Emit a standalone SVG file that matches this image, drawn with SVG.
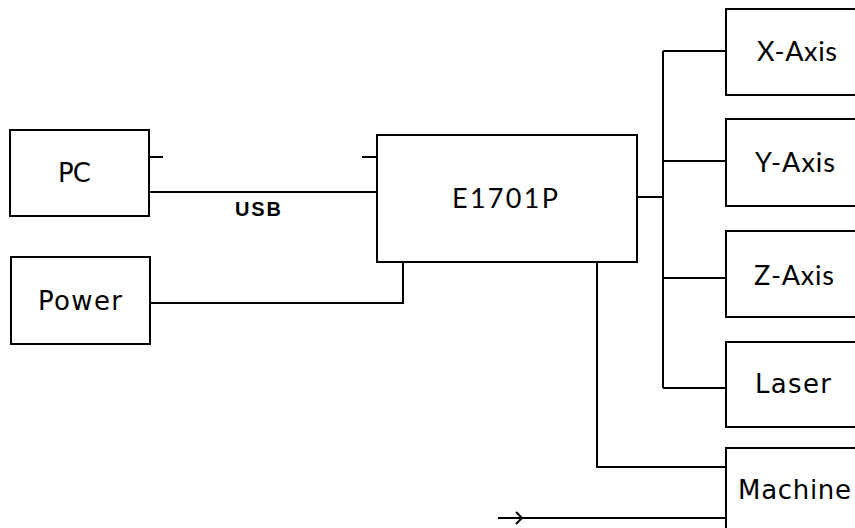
<svg xmlns="http://www.w3.org/2000/svg" width="855" height="528" viewBox="0 0 855 528">
<style>
.box{fill:#fff;stroke:#000;stroke-width:2}
.ln{fill:none;stroke:#000;stroke-width:2}
.dj{font-family:"DejaVu Sans",sans-serif;font-size:26px;fill:#000}
.cb{font-family:Lato,"Open Sans",sans-serif;font-size:27px;fill:#000}
.lbl{font-family:"Liberation Sans",Arial,sans-serif;font-size:20px;font-weight:bold;fill:#000}
</style>
<rect width="855" height="528" fill="#fff"/>
<g id="connectors">
<path class="ln" d="M149 157H163"/>
<path class="ln" d="M362 157H377"/>
<path class="ln" d="M149 192H377"/>
<path class="ln" d="M150 303H403V262"/>
<path class="ln" d="M637 197H663"/>
<path class="ln" d="M663 51V388"/>
<path class="ln" d="M663 51H726"/>
<path class="ln" d="M663 161H726"/>
<path class="ln" d="M663 278H726"/>
<path class="ln" d="M663 388H726"/>
<path class="ln" d="M597 262V467H726"/>
<path class="ln" d="M498 518H726"/>
<path class="ln" d="M516 512L522 518L516 524"/>
<text class="lbl" x="235" y="216" textLength="46">USB</text>
</g>
<g id="pc">
<rect class="box" x="10" y="130" width="139" height="86"/>
<text class="dj" x="58" y="182" textLength="33">PC</text>
</g>
<g id="power">
<rect class="box" x="11" y="257" width="139" height="87"/>
<text class="dj" x="38" y="310" textLength="84">Power</text>
</g>
<g id="e1701p">
<rect class="box" x="377" y="135" width="260" height="127"/>
<text class="cb" x="452" y="208" font-size="30" textLength="106">E1701P</text>
</g>
<g id="xaxis">
<rect class="box" x="726" y="9" width="200" height="86"/>
<text class="cb" x="757" y="61" textLength="80">X-Axis</text>
</g>
<g id="yaxis">
<rect class="box" x="726" y="119" width="200" height="87"/>
<text class="cb" x="755" y="172" textLength="80">Y-Axis</text>
</g>
<g id="zaxis">
<rect class="box" x="726" y="231" width="200" height="86"/>
<text class="cb" x="754" y="285" textLength="80">Z-Axis</text>
</g>
<g id="laser">
<rect class="box" x="726" y="342" width="200" height="85"/>
<text class="dj" x="755" y="393" textLength="76">Laser</text>
</g>
<g id="machine">
<rect class="box" x="726" y="448" width="200" height="120"/>
<text class="dj" x="738" y="499" textLength="113">Machine</text>
</g>
</svg>
